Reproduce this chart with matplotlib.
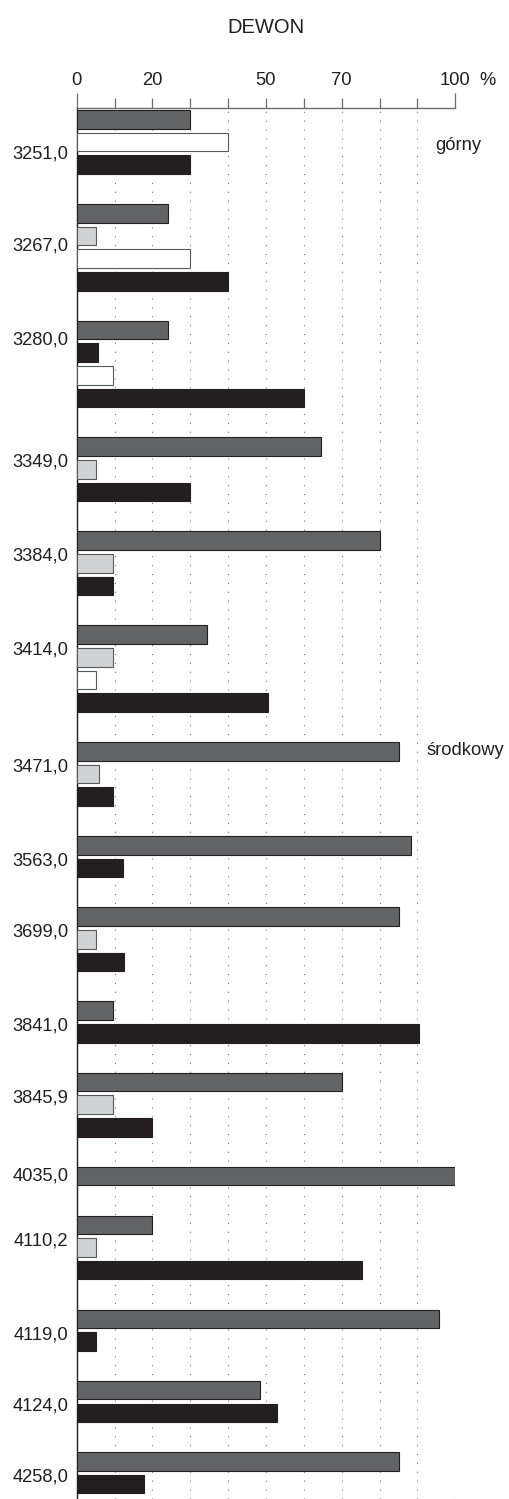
import matplotlib
matplotlib.use("Agg")
import matplotlib.pyplot as plt
from matplotlib.ticker import FixedLocator

plt.rcParams["font.family"] = ["Liberation Sans", "DejaVu Sans"]

# --- data: share of each component (%) per sample depth ---
depths = ["3251,0", "3267,0", "3280,0", "3349,0", "3384,0", "3414,0",
          "3471,0", "3563,0", "3699,0", "3841,0", "3845,9", "4035,0",
          "4110,2", "4119,0", "4124,0", "4258,0"]
dark_grey  = [30, 24, 24, 64.4, 80, 34.3, 85, 88.2, 85, 9.5, 70, 100, 20, 95.7, 48.3, 85]
light_grey = [None, 5, None, 5, 9.5, 9.5, 6, None, 5, None, 9.5, None, 5, None, None, None]
black_2    = [None, None, 5.5, None, None, None, None, None, None, None, None, None, None, None, None, None]
white      = [40, 30, 9.5, None, None, 5, None, None, None, None, None, None, None, None, None, None]
black      = [30, 40, 60, 30, 9.5, 50.5, 9.5, 12.3, 12.5, 90.3, 20, None, 75.3, 5, 52.8, 17.8]

tick_values = [0, 20, 50, 70, 100]
title = "DEWON"
stage_upper = "górny"
stage_middle = "środkowy"

# --- styling ---
series = [
    (dark_grey,  "#636466", "#231f20"),
    (light_grey, "#d1d2d4", "#58595b"),
    (black_2,    "#231f20", "#231f20"),
    (white,      "#ffffff", "#58595b"),
    (black,      "#231f20", "#231f20"),
]
W, H = 509, 1499
AX_LEFT, AX_RIGHT, AX_TOP = 76.7, 455.3, 107.7
BAR_H, PITCH, GROUP_STEP, FIRST_TOP = 18.5, 22.6, 48.8, 2.5
LABEL_SHIFT = {0: 19, 1: 17, 2: -6}     # small per-label nudges (px)
FS = 13.2

fig = plt.figure(figsize=(W / 100, H / 100), dpi=100)
ax = fig.add_axes([AX_LEFT / W, 0, (AX_RIGHT - AX_LEFT) / W, (H - AX_TOP) / H])
ax.set_xlim(0, 100)
ax.set_ylim(H - AX_TOP, 0)

# --- bars, stacked top-down within each depth group ---
top = FIRST_TOP
groups = []
for gi in range(len(depths)):
    tops = []
    for values, face, edge in series:
        v = values[gi]
        if v is None:
            continue
        ax.barh(top, v, height=BAR_H, align="edge", color=face,
                edgecolor=edge, linewidth=0.8, zorder=3)
        tops.append(top)
        top += PITCH
    groups.append(tops)
    top = tops[-1] + GROUP_STEP

# --- depth labels ---
for gi, (label, tops) in enumerate(zip(depths, groups)):
    if len(tops) > 1:
        c = tops[0] + BAR_H + 4.5
    else:
        c = tops[0] + BAR_H / 2 - 2
    c += LABEL_SHIFT.get(gi, 0)
    ax.annotate(label, xy=(0, c + 6.5), xytext=(-6, 0), textcoords="offset points",
                ha="right", va="baseline", fontsize=FS, color="#231f20",
                annotation_clip=False)

# --- stage names ---
ax.text(94.8, groups[0][1] + BAR_H - 1, stage_upper, fontsize=FS,
        color="#231f20", ha="left", va="baseline")
ax.text(92.4, groups[6][0] + BAR_H - 6, stage_middle, fontsize=FS,
        color="#231f20", ha="left", va="baseline")

# --- axis: scale on top ---
ax.xaxis.tick_top()
ax.xaxis.set_major_locator(FixedLocator([0, 100]))
ax.xaxis.set_minor_locator(FixedLocator(list(range(10, 100, 10))))
ax.tick_params(axis="x", which="major", direction="out", length=11, width=0.9,
               color="#6d6e70", labeltop=False, labelbottom=False)
ax.tick_params(axis="x", which="minor", direction="out", length=7.5, width=0.9,
               color="#6d6e70")
ax.tick_params(axis="y", left=False, labelleft=False)
for v in tick_values:
    ax.annotate(str(v), xy=(v, 1.0), xycoords=("data", "axes fraction"),
                xytext=(0, 16), textcoords="offset points", ha="center",
                va="baseline", fontsize=FS, color="#231f20", annotation_clip=False)
ax.annotate("%", xy=(100, 1.0), xycoords=("data", "axes fraction"),
            xytext=(17.5, 16), textcoords="offset points", ha="left",
            va="baseline", fontsize=FS, color="#231f20", annotation_clip=False)

# dotted guide lines at every 10 %
for x in range(10, 101, 10):
    ax.axvline(x, color="#7a7a7a", linewidth=0.8, linestyle=(0, (1, 7)), zorder=1)

for s in ("right", "bottom"):
    ax.spines[s].set_visible(False)
ax.spines["top"].set_color("#6d6e70")
ax.spines["top"].set_linewidth(1.0)
ax.spines["left"].set_color("#231f20")
ax.spines["left"].set_linewidth(1.0)

fig.text(0.5 * (AX_LEFT + AX_RIGHT) / W, 1 - 32.7 / H, title, ha="center",
         va="baseline", fontsize=14.5, color="#231f20")

fig.savefig("out.png", dpi=100)
